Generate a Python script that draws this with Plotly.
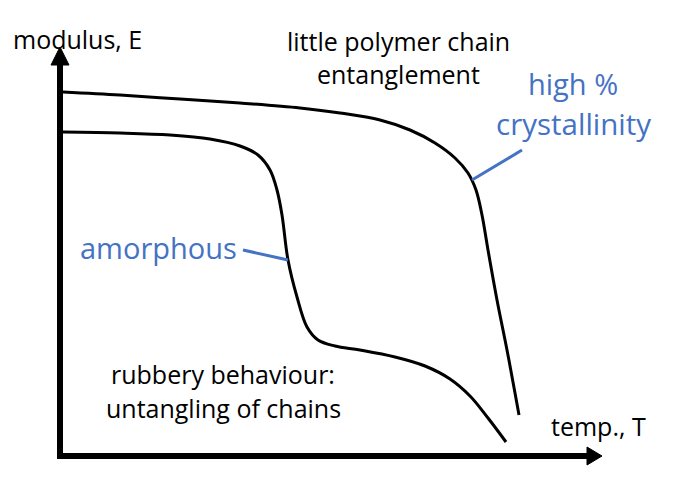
import plotly.graph_objects as go

# Schematic data (temperature T and modulus E in arbitrary units, origin at axes corner)
cryst_T = [3, 60, 120, 180, 240, 280, 320, 350, 375, 395, 408, 416, 422, 428, 437, 447, 455, 459]
cryst_E = [364, 361, 357, 353, 348, 343, 336, 326, 313, 298, 283, 266, 241, 206, 156, 106, 63, 41]

amorph_T = [3, 60, 110, 150, 180, 198, 210, 217, 222, 228, 237, 247, 258, 275, 300, 335, 365, 390, 410, 428, 446]
amorph_E = [324, 323, 321, 317, 310, 301, 286, 266, 241, 196, 159, 129, 116, 110, 106, 99, 90, 77, 60, 38, 14]

cryst_leader_T = [412, 462]
cryst_leader_E = [276, 306]
amorph_leader_T = [183, 228]
amorph_leader_E = [206, 196]

axis_T_end = 542
axis_E_end = 409

BLUE = "#4472C4"
FONT = "Open Sans"

fig = go.Figure()
fig.add_trace(go.Scatter(x=cryst_T, y=cryst_E, mode="lines",
                         line=dict(color="black", width=3, shape="spline", smoothing=1.0),
                         hoverinfo="skip"))
fig.add_trace(go.Scatter(x=amorph_T, y=amorph_E, mode="lines",
                         line=dict(color="black", width=3, shape="spline", smoothing=1.0),
                         hoverinfo="skip"))
fig.add_trace(go.Scatter(x=cryst_leader_T, y=cryst_leader_E, mode="lines",
                         line=dict(color=BLUE, width=3), hoverinfo="skip"))
fig.add_trace(go.Scatter(x=amorph_leader_T, y=amorph_leader_E, mode="lines",
                         line=dict(color=BLUE, width=3), hoverinfo="skip"))

# axes with arrowheads
fig.add_shape(type="line", x0=0, y0=-3, x1=0, y1=axis_E_end - 14,
              line=dict(color="black", width=6))
fig.add_shape(type="path",
              path=f"M 0 {axis_E_end} L -9 {axis_E_end-18} L 9 {axis_E_end-18} Z",
              fillcolor="black", line=dict(color="black", width=1))
fig.add_shape(type="line", x0=-3, y0=0, x1=axis_T_end - 12, y1=0,
              line=dict(color="black", width=6))
fig.add_shape(type="path",
              path=f"M {axis_T_end} 0 L {axis_T_end-15} -9 L {axis_T_end-15} 9 Z",
              fillcolor="black", line=dict(color="black", width=1))

labels = [
    ("modulus, E", 17.5, 417, "black", 25),
    ("little polymer chain", 338.5, 415, "black", 25),
    ("entanglement", 338, 382, "black", 25),
    ("high %", 512.5, 373, BLUE, 29),
    ("crystallinity", 513.5, 333, BLUE, 29.5),
    ("amorphous", 98, 209, BLUE, 29),
    ("rubbery behaviour:", 162.5, 82, "black", 25),
    ("untangling of chains", 163.5, 48, "black", 25),
    ("temp., T", 538.5, 30, "black", 25),
]
for text, x, y, color, size in labels:
    fig.add_annotation(x=x, y=y, text=text, showarrow=False,
                       xanchor="center", yanchor="middle",
                       font=dict(family=FONT, size=size, color=color))

fig.update_layout(
    width=677, height=490,
    margin=dict(l=0, r=0, t=0, b=0),
    paper_bgcolor="white", plot_bgcolor="white",
    showlegend=False,
    xaxis=dict(range=[-60, 617], visible=False, fixedrange=True),
    yaxis=dict(range=[-34, 456], visible=False, fixedrange=True),
)
fig.write_html("out.html", config={"displayModeBar": False},
               post_script="document.body.style.margin='0';")
